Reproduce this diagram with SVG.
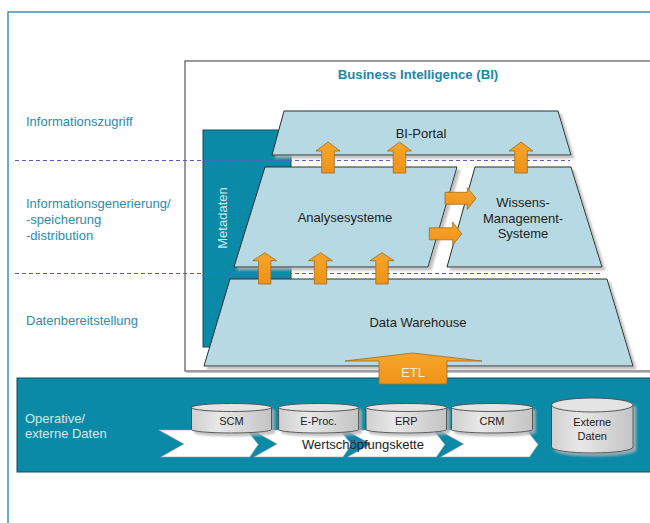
<svg xmlns="http://www.w3.org/2000/svg" width="650" height="523" viewBox="0 0 650 523">
  <defs>
    <style>
      .lbl { font-family: "Liberation Sans", Arial, sans-serif; font-size: 13px; fill: #2a8db2; }
      .lbl-w { font-family: "Liberation Sans", Arial, sans-serif; font-size: 13px; fill: #cfe8ef; }
      .txt { font-family: "Liberation Sans", Arial, sans-serif; font-size: 13px; fill: #222; text-anchor: middle; }
      .cyl-t { font-family: "Liberation Sans", Arial, sans-serif; font-size: 11px; fill: #222; text-anchor: middle; }
      .layer { fill: #b6d9e4; stroke: #2e2e2e; stroke-width: 1; filter: url(#shadow); }
      .arrow { fill: url(#orange); stroke: #a3691c; stroke-width: 0.8; }
      .dash { stroke: #5a5acf; stroke-width: 1; stroke-dasharray: 4 3; fill: none; }
      .teal { fill: #0b8aa7; stroke: #0d4f5f; stroke-width: 1; }
      .cyl { fill: url(#cylgrad); stroke: #4a4a4a; stroke-width: 0.9; }
      .cyl-top { fill: #e4e4e4; stroke: #4a4a4a; stroke-width: 0.9; }
      .chev { fill: #ffffff; stroke: #9a9a9a; stroke-width: 0.6; }
    </style>
    <filter id="shadow" x="-5%" y="-5%" width="115%" height="120%">
      <feOffset in="SourceAlpha" dx="3" dy="3" result="o"/>
      <feGaussianBlur in="o" stdDeviation="0.8" result="b"/>
      <feColorMatrix in="b" type="matrix" values="0 0 0 0 0.45  0 0 0 0 0.45  0 0 0 0 0.45  0 0 0 0.8 0" result="s"/>
      <feMerge><feMergeNode in="s"/><feMergeNode in="SourceGraphic"/></feMerge>
    </filter>
    <linearGradient id="orange" x1="0" y1="0" x2="0" y2="1">
      <stop offset="0" stop-color="#f7a52a"/>
      <stop offset="1" stop-color="#f0921a"/>
    </linearGradient>
    <linearGradient id="cylgrad" x1="0" y1="0" x2="1" y2="0">
      <stop offset="0" stop-color="#cfcfcf"/>
      <stop offset="0.35" stop-color="#e8e8e8"/>
      <stop offset="1" stop-color="#c4c4c4"/>
    </linearGradient>
  </defs>

  <rect x="0" y="0" width="650" height="523" fill="#ffffff"/>

  <!-- outer frame -->
  <rect x="8" y="12" width="700" height="600" fill="none" stroke="#3f8db7" stroke-width="1.5"/>

  <!-- layer captions -->
  <g id="captions">
    <text class="lbl" x="26" y="125.5">Informationszugriff</text>
    <text class="lbl" x="26" y="207.5">Informationsgenerierung/</text>
    <text class="lbl" x="26" y="223.5">-speicherung</text>
    <text class="lbl" x="26" y="239.5">-distribution</text>
    <text class="lbl" x="26" y="324.5">Datenbereitstellung</text>
  </g>

  <!-- BI frame -->
  <g id="bi-frame">
    <rect x="185" y="61" width="520" height="310" fill="#ffffff" stroke="#666666" stroke-width="1.3"/>
    <line x1="186" y1="372.5" x2="650" y2="372.5" stroke="#c4c4c4" stroke-width="1"/>
    <text x="418" y="78.5" text-anchor="middle" font-family="'Liberation Sans', Arial, sans-serif" font-size="13.2" font-weight="bold" fill="#1f86ab">Business Intelligence (BI)</text>
  </g>

  <!-- metadata column -->
  <g id="metadaten">
    <rect class="teal" x="203" y="130" width="88" height="217"/>
    <text class="lbl-w" transform="translate(226.5 218) rotate(-90)" text-anchor="middle" fill="#c8e4ec">Metadaten</text>
  </g>

  <!-- layer separators -->
  <g id="separators">
    <line class="dash" x1="15" y1="160.5" x2="570" y2="160.5"/>
    <line class="dash" x1="15" y1="273.5" x2="602" y2="273.5"/>
  </g>

  <g id="bi-portal">
    <polygon class="layer" points="284,111 558,111 571,155 272,155"/>
    <text class="txt" x="421" y="138">BI-Portal</text>
  </g>

  <g id="analysesysteme">
    <polygon class="layer" points="265,167 457,167 428,267 234,267"/>
    <text class="txt" x="345" y="222">Analysesysteme</text>
  </g>

  <g id="wissensmanagement">
    <polygon class="layer" points="475,167 571,167 602,267 447,267"/>
    <text class="txt" x="523" y="206.5">Wissens-</text>
    <text class="txt" x="523" y="222.5">Management-</text>
    <text class="txt" x="523" y="237.5">Systeme</text>
  </g>

  <g id="data-warehouse">
    <polygon class="layer" points="230,279 607,279 633,366 204,366"/>
    <text class="txt" x="418" y="327">Data Warehouse</text>
  </g>

  <!-- operational data band -->
  <g id="operative-daten">
    <rect class="teal" x="17" y="378" width="700" height="94"/>
    <text class="lbl-w" x="25" y="422.5">Operative/</text>
    <text class="lbl-w" x="25" y="437.5">externe Daten</text>
  </g>

  <!-- value chain -->
  <g id="wertschoepfungskette">
    <polygon class="chev" points="158.8,430 246.8,430 258.3,444.5 249.8,457 160.8,457 183.8,444"/>
    <polygon class="chev" points="252,430 340,430 351.5,444.5 343,457 254,457 277,444"/>
    <polygon class="chev" points="345.4,430 433.4,430 444.9,444.5 436.4,457 347.4,457 370.4,444"/>
    <polygon class="chev" points="438.6,430 526.6,430 538.1,444.5 529.6,457 440.6,457 463.6,444"/>
  </g>

  <!-- source systems -->
  <g id="scm" filter="url(#shadow)">
    <path class="cyl" d="M191.5,407.5 V429.5 A40,3.5 0 0 0 271.5,429.5 V407.5 Z"/>
    <ellipse class="cyl-top" cx="231.5" cy="407.5" rx="40" ry="4"/>
  </g>
  <text class="cyl-t" x="231.5" y="424.5">SCM</text>

  <g id="e-proc" filter="url(#shadow)">
    <path class="cyl" d="M278.6,407.5 V429.5 A40,3.5 0 0 0 358.6,429.5 V407.5 Z"/>
    <ellipse class="cyl-top" cx="318.6" cy="407.5" rx="40" ry="4"/>
  </g>
  <text class="cyl-t" x="318.6" y="424.5">E-Proc.</text>

  <g id="erp" filter="url(#shadow)">
    <path class="cyl" d="M366,407.5 V429.5 A40.25,3.5 0 0 0 446.5,429.5 V407.5 Z"/>
    <ellipse class="cyl-top" cx="406.25" cy="407.5" rx="40.25" ry="4"/>
  </g>
  <text class="cyl-t" x="406.25" y="424.5">ERP</text>

  <g id="crm" filter="url(#shadow)">
    <path class="cyl" d="M451.5,407.5 V429.5 A40.5,3.5 0 0 0 532.5,429.5 V407.5 Z"/>
    <ellipse class="cyl-top" cx="492" cy="407.5" rx="40.5" ry="4"/>
  </g>
  <text class="cyl-t" x="492" y="424.5">CRM</text>

  <g id="externe-daten" filter="url(#shadow)">
    <path class="cyl" d="M551.5,405 V447 A40.75,6 0 0 0 633,447 V405 Z"/>
    <ellipse class="cyl-top" cx="592.25" cy="405" rx="40.75" ry="7"/>
  </g>
  <text class="cyl-t" x="592.25" y="425.5" font-size="10.5">Externe</text>
  <text class="cyl-t" x="592.25" y="439.5" font-size="10.5">Daten</text>

  <text class="txt" x="363" y="449">Wertschöpfungskette</text>

  <!-- flow arrows -->
  <g id="connectors">
    <!-- analysis / knowledge to portal -->
    <polygon class="arrow" points="328,142 340,151 334.3,151 334.3,173 321.7,173 321.7,151 316,151"/>
    <polygon class="arrow" points="399.5,142 411.5,151 405.8,151 405.8,173 393.2,173 393.2,151 387.5,151"/>
    <polygon class="arrow" points="521,142 533,151 527.3,151 527.3,173 514.7,173 514.7,151 509,151"/>
    <!-- warehouse to analysis -->
    <polygon class="arrow" points="264.7,252.7 276.7,260.7 270.9,260.7 270.9,284 258.5,284 258.5,260.7 252.7,260.7"/>
    <polygon class="arrow" points="320.5,252.7 332.5,260.7 326.7,260.7 326.7,284 314.3,284 314.3,260.7 308.5,260.7"/>
    <polygon class="arrow" points="382,252.7 394,260.7 388.2,260.7 388.2,284 375.8,284 375.8,260.7 370,260.7"/>
    <!-- analysis to knowledge management -->
    <polygon class="arrow" points="445,192.3 467.3,192.3 467.3,187.7 476,198.3 467.3,209.5 467.3,204.3 445,204.3"/>
    <polygon class="arrow" points="429.3,227.8 452.7,227.8 452.7,222 461.7,233.8 452.7,245 452.7,239.8 429.3,239.8"/>
    <!-- ETL -->
    <polygon class="arrow" points="345,361 412.5,353 482,361 447,361 447,384 379,384 379,361"/>
    <text x="413" y="376.5" text-anchor="middle" font-family="'Liberation Sans', Arial, sans-serif" font-size="13" fill="#fdeed6">ETL</text>
  </g>
</svg>
